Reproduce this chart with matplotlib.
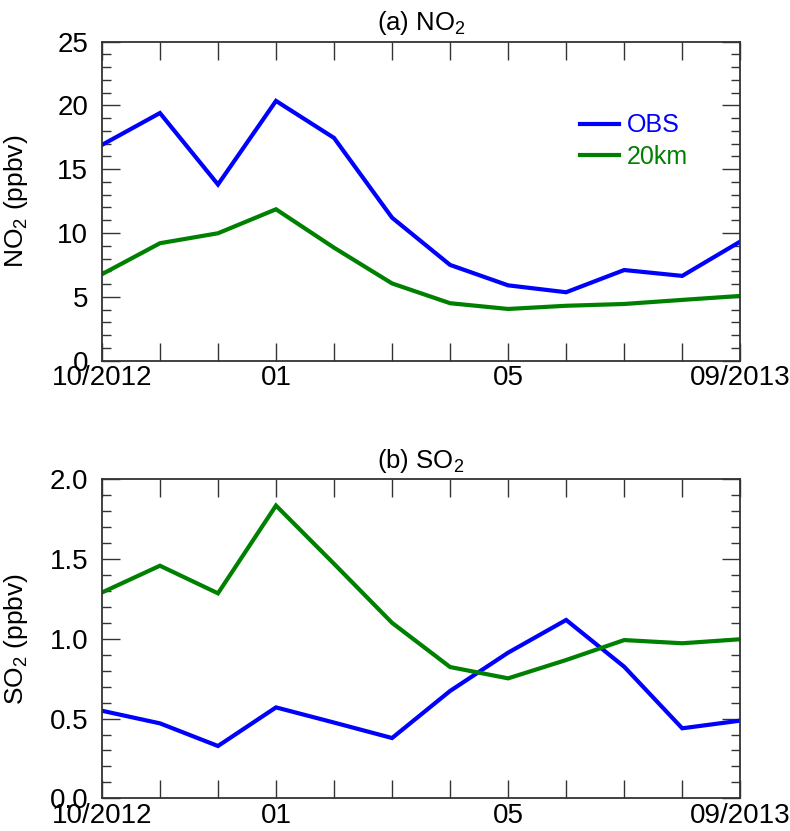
import matplotlib
matplotlib.use("Agg")
import matplotlib.pyplot as plt
from matplotlib.ticker import MultipleLocator

plt.rcParams['font.family'] = ['Liberation Sans', 'DejaVu Sans']
plt.rcParams['mathtext.fontset'] = 'custom'
plt.rcParams['mathtext.rm'] = 'Liberation Sans'

months = list(range(12))
tick_pos = [0, 3, 7, 11]
tick_labels = ["10/2012", "01", "05", "09/2013"]

no2_obs = [16.9, 19.4, 13.8, 20.35, 17.45, 11.2, 7.5, 5.9, 5.36, 7.1, 6.64, 9.33]
no2_20km = [6.77, 9.2, 9.98, 11.86, 8.85, 6.05, 4.5, 4.05, 4.3, 4.44, 4.76, 5.07]
so2_obs = [0.549, 0.47, 0.328, 0.57, 0.475, 0.378, 0.673, 0.913, 1.118, 0.825, 0.439, 0.487]
so2_20km = [1.29, 1.458, 1.285, 1.835, 1.47, 1.10, 0.823, 0.752, 0.867, 0.992, 0.972, 0.997]

BLUE = '#0000ff'
GREEN = '#008000'

fig = plt.figure(figsize=(7.9, 8.31), dpi=100)
ax1 = fig.add_axes([0.129, 0.566, 0.808, 0.384])
ax2 = fig.add_axes([0.129, 0.0393, 0.808, 0.384])

def style(ax, ymax, major, minor):
    ax.set_xlim(0, 11)
    ax.set_ylim(0, ymax)
    ax.set_xticks(months)
    ax.set_xticklabels([tick_labels[tick_pos.index(m)] if m in tick_pos else "" for m in months])
    ax.yaxis.set_major_locator(MultipleLocator(major))
    ax.yaxis.set_minor_locator(MultipleLocator(minor))
    ax.tick_params(axis='both', which='major', direction='in', length=13, width=1.0,
                   top=True, right=True, labelsize=20, color='#333333')
    ax.tick_params(axis='y', which='minor', direction='in', length=6.5, width=1.0,
                   left=True, right=True, color='#333333')
    ax.tick_params(axis='x', which='major', pad=3)
    ax.tick_params(axis='y', which='major', pad=10)
    for s in ax.spines.values():
        s.set_linewidth(1.3)
        s.set_color('#333333')

ax1.plot(months, no2_obs, color=BLUE, lw=3, label='OBS', solid_joinstyle='miter')
ax1.plot(months, no2_20km, color=GREEN, lw=3, label='20km', solid_joinstyle='miter')
style(ax1, 25, 5, 1)
ax1.set_yticklabels([f"{int(v)}" for v in ax1.get_yticks()])
ax1.set_ylabel("NO$_2$ (ppbv)", fontsize=19)
ax1.yaxis.set_label_coords(-0.113, 0.5)
ax1.set_title("(a) NO$_2$", fontsize=18.5, pad=8)
leg = ax1.legend(loc='upper left', bbox_to_anchor=(0.749, 0.775), frameon=False,
                 fontsize=18, handlelength=1.56, handletextpad=0.32, labelspacing=0.3,
                 borderpad=0, borderaxespad=0)
for t, c in zip(leg.get_texts(), [BLUE, GREEN]):
    t.set_color(c)

ax2.plot(months, so2_obs, color=BLUE, lw=3, solid_joinstyle='miter')
ax2.plot(months, so2_20km, color=GREEN, lw=3, solid_joinstyle='miter')
style(ax2, 2.0, 0.5, 0.1)
ax2.set_yticklabels([f"{v:.1f}" for v in ax2.get_yticks()])
ax2.set_ylabel("SO$_2$ (ppbv)", fontsize=19)
ax2.yaxis.set_label_coords(-0.113, 0.5)
ax2.set_title("(b) SO$_2$", fontsize=18.5, pad=8)

fig.savefig("out.png", dpi=100)
